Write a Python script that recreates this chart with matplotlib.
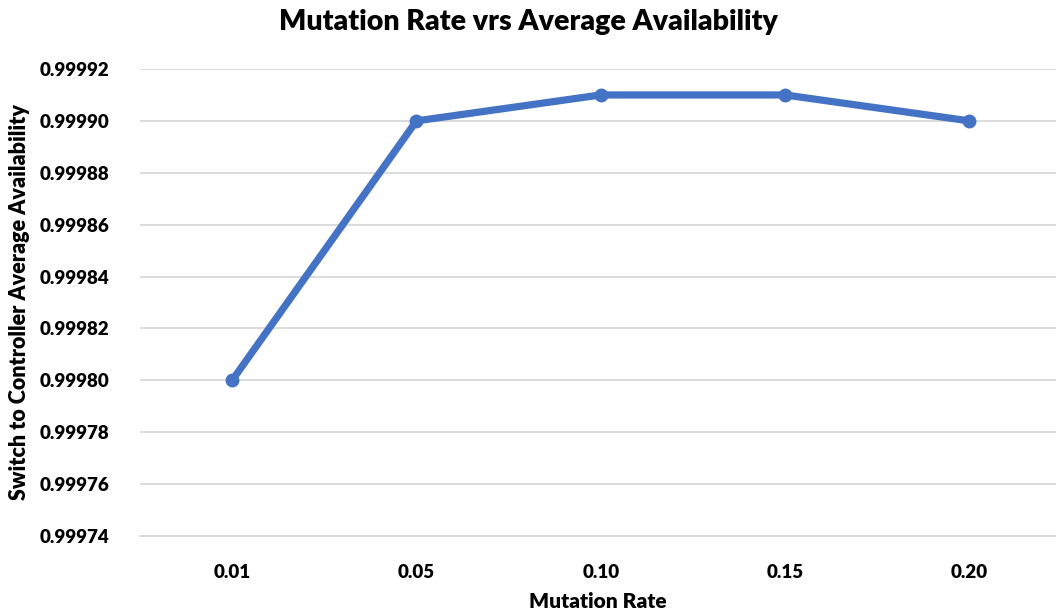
import matplotlib.pyplot as plt

mutation_rates = ['0.01', '0.05', '0.10', '0.15', '0.20']
availability = [0.99980, 0.99990, 0.99991, 0.99991, 0.99990]
y_ticks = [0.99974, 0.99976, 0.99978, 0.99980, 0.99982, 0.99984,
           0.99986, 0.99988, 0.99990, 0.99992]

plt.rcParams['font.family'] = ['Lato', 'DejaVu Sans']
plt.rcParams['font.weight'] = 'heavy'

fig = plt.figure(figsize=(10.56, 6.15), dpi=100)
ax = fig.add_axes([140 / 1056, 1 - 536 / 615, 1 - 140 / 1056, (536 - 69) / 615])

x = list(range(len(mutation_rates)))
ax.plot(x, availability, color='#4472C4', linewidth=5.2, marker='o',
        markersize=9, solid_capstyle='round', zorder=3)

ax.set_xlim(-0.5, 4.47)
ax.set_ylim(y_ticks[0], y_ticks[-1])
ax.set_yticks(y_ticks)
ax.set_yticklabels([f'{v:.5f}' for v in y_ticks])
ax.set_xticks(x)
ax.set_xticklabels(mutation_rates)

ax.grid(axis='y', color='#d9d9d9', linewidth=1.3)
ax.set_axisbelow(True)
for s in ['top', 'right', 'left']:
    ax.spines[s].set_visible(False)
ax.spines['bottom'].set_color('#d9d9d9')
ax.spines['bottom'].set_linewidth(1.3)
ax.tick_params(axis='both', length=0, labelsize=13.5)
ax.tick_params(axis='y', pad=22)
ax.tick_params(axis='x', pad=20)

ax.set_xlabel('Mutation Rate', fontsize=15, fontweight='heavy', labelpad=8)
ax.set_ylabel('Switch to Controller Average Availability', fontsize=15.5,
              fontweight='heavy', labelpad=7)
fig.text(0.5, 1 - 22 / 615, 'Mutation Rate vrs Average Availability',
         ha='center', va='center', fontsize=20.5, fontweight='heavy')

fig.savefig('out.png', dpi=100)
